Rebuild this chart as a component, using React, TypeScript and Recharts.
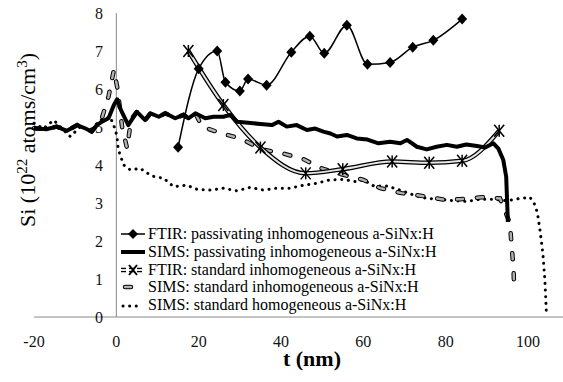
import { LineChart, Line, XAxis, YAxis, ReferenceLine, Legend } from 'recharts';

// FTIR: passivating inhomogeneous
const ftirPassT = [15, 20, 24.5, 26.5, 30, 32, 36.5, 42.5, 47, 50.5, 56, 61, 66.5, 72, 77, 84];
const ftirPassV = [4.47, 6.53, 7.0, 6.18, 5.95, 6.26, 6.1, 6.97, 7.39, 6.94, 7.68, 6.65, 6.7, 7.1, 7.28, 7.84];

// FTIR: standard inhomogeneous
const ftirStdT = [17.5, 26, 35, 46, 55, 67, 76, 84, 93];
const ftirStdV = [7.0, 5.58, 4.46, 3.78, 3.89, 4.09, 4.06, 4.11, 4.9];

// SIMS: passivating inhomogeneous
const simsPassT = [
  -20, -17, -14.5, -12, -9.5, -7.5, -6, -4.7, -3.5, -1.9, -0.6, 0.2, 1.1, 2.9, 5, 7, 8.3, 10.3, 11.9, 14.3, 16.3, 17.5, 19.2,
  21.6, 23.6, 26, 27.7, 29.3, 32, 35, 37.8, 39.4, 41.4, 43.8, 46.3, 48.3, 50.3, 52, 53.6, 56, 58.4, 61, 63.7, 66.5, 69,
  70.6, 73, 75.4, 77.8, 80.3, 82.7, 85, 87.6, 89.6, 91.6, 92.8, 94, 94.7, 95, 95.1,
];
const simsPassV = [
  4.97, 4.94, 5.01, 4.9, 5.05, 4.96, 4.88, 5.05, 5.14, 5.23, 5.58, 5.73, 5.45, 5.05, 5.4, 5.18, 5.36, 5.27, 5.36, 5.23, 5.32, 5.23, 5.36,
  5.23, 5.27, 5.27, 5.32, 5.14, 5.11, 5.08, 5.05, 5.14, 5.01, 5.05, 4.92, 4.96, 4.88, 4.83, 4.75, 4.79, 4.7, 4.67, 4.57, 4.61, 4.57,
  4.66, 4.48, 4.41, 4.48, 4.53, 4.48, 4.54, 4.5, 4.46, 4.57, 4.43, 4.13, 3.69, 2.82, 2.5,
];

// SIMS: standard inhomogeneous
const simsStdT = [
  -20, -17, -14.5, -12, -9.5, -7.5, -6, -4.7, -3.5, -1.9, -0.6, 0.3, 1.4, 2.6, 3.6, 5, 7, 8.3, 10.3, 11.9, 14.3, 16.3, 17.5,
  19.2, 20.8, 25.6, 30.1, 35.4, 40.6, 45.5, 49.9, 55.2, 60, 64.1, 69.3, 74.6, 79.9, 83.5, 88.8, 93.2, 95.6, 96, 96.5, 96.6,
];
const simsStdV = [
  4.97, 4.94, 5.01, 4.9, 5.05, 4.96, 4.88, 5.05, 5.24, 5.8, 6.5, 6.0, 5.0, 4.44, 5.2, 5.4, 5.18, 5.36, 5.27, 5.36, 5.23, 5.32, 5.23,
  5.36, 5.01, 4.83, 4.7, 4.41, 4.3, 4.15, 3.91, 3.74, 3.61, 3.39, 3.26, 3.18, 3.08, 3.1, 3.15, 3.12, 2.47, 1.9, 1.24, 0.85,
];

// SIMS: standard homogeneous
const simsHomT = [
  -20, -17.7, -15.2, -12.8, -11.2, -8.7, -6.3, -3.9, -1.5, -0.2, 0.2, 0.4, 0.8, 1.8, 3.4, 5.8, 8.6, 11.5, 13.9, 17.1, 19.6,
  22.8, 26, 29.3, 32.5, 35.7, 39, 42.2, 45.5, 48.7, 51.9, 55.2, 58.4, 60, 62.5, 65.7, 68.9, 72.2, 75.4, 78.6, 81.9, 85.1,
  88.3, 91.6, 94.8, 98.1, 100.5, 101.7, 102.3, 102.9, 103.6, 104.1, 104.5,
];
const simsHomV = [
  5.1, 4.96, 5.18, 4.92, 4.75, 5.01, 4.92, 5.18, 5.27, 4.92, 4.71, 4.48, 4.3, 4.0, 3.87, 3.91, 3.71, 3.65, 3.43, 3.47, 3.36,
  3.34, 3.39, 3.32, 3.41, 3.34, 3.39, 3.39, 3.47, 3.52, 3.61, 3.62, 3.56, 3.61, 3.45, 3.45, 3.34, 3.21, 3.12, 3.1, 3.06, 3.04,
  3.1, 3.1, 3.06, 3.12, 3.15, 2.95, 2.73, 2.29, 1.68, 0.97, 0.01,
];

const xTicks = [-20, 0, 20, 40, 60, 80, 100];
const yTicks = [0, 1, 2, 3, 4, 5, 6, 7, 8];
const legendLabels = [
  'FTIR: passivating inhomogeneous a-SiNx:H',
  'SIMS: passivating inhomogeneous a-SiNx:H',
  'FTIR: standard inhomogeneous a-SiNx:H',
  'SIMS: standard inhomogeneous a-SiNx:H',
  'SIMS: standard homogeneous a-SiNx:H',
];

const zip = (ts: number[], vs: number[]) => ts.map((t, i) => ({ t, v: vs[i] }));
const ftirPass = zip(ftirPassT, ftirPassV);
const ftirStd = zip(ftirStdT, ftirStdV);
const simsPass = zip(simsPassT, simsPassV);
const simsStd = zip(simsStdT, simsStdV);
const simsHom = zip(simsHomT, simsHomV);

const serif = 'Liberation Serif, DejaVu Serif, Tinos, serif';
const axisGray = '#888';
const textStyle = { fontFamily: serif };

const Diamond = (props: any) => {
  const { cx, cy, index } = props;
  if (cx == null || cy == null) return <g key={`d${index}`} />;
  return <path key={`d${index}`} d={`M${cx},${cy - 5.5}L${cx + 5},${cy}L${cx},${cy + 5.5}L${cx - 5},${cy}Z`} fill="#000" />;
};

const Star = (props: any) => {
  const { cx, cy, index } = props;
  if (cx == null || cy == null) return <g key={`s${index}`} />;
  return (
    <g key={`s${index}`} stroke="#000" strokeWidth={1.5}>
      <line x1={cx - 5} y1={cy - 6} x2={cx + 5} y2={cy + 6} />
      <line x1={cx + 5} y1={cy - 6} x2={cx - 5} y2={cy + 6} />
      <line x1={cx} y1={cy - 6} x2={cx} y2={cy + 6} />
    </g>
  );
};

const YTitle = () => (
  <text transform="translate(35,140) rotate(-90)" textAnchor="middle" style={textStyle} fontSize={22} fill="#000">
    Si (10<tspan dy={-8} fontSize={15}>22</tspan>
    <tspan dy={8}> atoms/cm</tspan>
    <tspan dy={-8} fontSize={15}>3</tspan>
    <tspan dy={8}>)</tspan>
  </text>
);

const XTitle = () => (
  <text x={312} y={366} textAnchor="middle" style={textStyle} fontSize={22} fontWeight="bold" fill="#000">
    t (nm)
  </text>
);

function LegendIcon({ i }: { i: number }) {
  return (
    <svg width={26} height={18} style={{ display: 'block' }}>
      {i === 0 && (
        <g>
          <line x1={1} y1={9} x2={25} y2={9} stroke="#000" strokeWidth={1.5} />
          <path d="M13,4L18,9L13,14L8,9Z" fill="#000" />
        </g>
      )}
      {i === 1 && <line x1={1} y1={9} x2={25} y2={9} stroke="#000" strokeWidth={4} />}
      {i === 2 && (
        <g>
          <line x1={1} y1={9} x2={25} y2={9} stroke="#000" strokeWidth={4.5} strokeDasharray="5 3" />
          <line x1={1} y1={9} x2={25} y2={9} stroke="#e6e6e6" strokeWidth={2} strokeDasharray="5 3" />
          <g stroke="#000" strokeWidth={2}>
            <line x1={9} y1={4} x2={17} y2={14} />
            <line x1={17} y1={4} x2={9} y2={14} />
          </g>
        </g>
      )}
      {i === 3 && (
        <g strokeLinecap="round">
          <line x1={5} y1={9} x2={11} y2={9} stroke="#000" strokeWidth={4.5} />
          <line x1={5} y1={9} x2={11} y2={9} stroke="#b0b0b0" strokeWidth={2.5} />
        </g>
      )}
      {i === 4 && (
        <line x1={3} y1={10} x2={20} y2={10} stroke="#000" strokeWidth={3} strokeLinecap="round" strokeDasharray="0.1 6.5" />
      )}
    </svg>
  );
}

function LegendBox() {
  return (
    <div style={{ fontFamily: serif, fontSize: 16, color: '#000' }}>
      {legendLabels.map((label, i) => (
        <div key={label} style={{ display: 'flex', alignItems: 'center', height: 17.8, whiteSpace: 'nowrap' }}>
          <LegendIcon i={i} />
          <span style={{ marginLeft: 2 }}>{label}</span>
        </div>
      ))}
    </div>
  );
}

export default function App() {
  return (
    <div style={{ position: 'absolute', left: 0, top: 0, width: 563, height: 382, background: '#fff', fontFamily: serif }}>
      <LineChart width={563} height={382} margin={{ top: 13, right: 0, bottom: 0, left: 0 }} style={textStyle}>
        <XAxis
          type="number"
          dataKey="t"
          domain={[-20, 108.5]}
          ticks={xTicks}
          height={65}
          tickLine={false}
          axisLine={{ stroke: axisGray }}
          tick={{ fontSize: 16, fill: '#111', style: textStyle }}
          tickMargin={13}
          label={<XTitle />}
        />
        <YAxis
          type="number"
          domain={[0, 8]}
          ticks={yTicks}
          width={34}
          axisLine={false}
          tickLine={false}
          tick={{ fontSize: 16, fill: '#111', style: textStyle }}
          tickMargin={-75}
          label={<YTitle />}
        />
        <ReferenceLine x={0} stroke={axisGray} />
        <Legend
          layout="vertical"
          align="center"
          verticalAlign="middle"
          content={<LegendBox />}
          wrapperStyle={{ left: 120, top: 225, width: 340 }}
        />
        <Line data={simsHom} dataKey="v" name="SIMS: standard homogeneous a-SiNx:H" type="linear" stroke="#000"
          strokeWidth={3} strokeLinecap="round" strokeDasharray="0.1 6.6" dot={false} activeDot={false} isAnimationActive={false} />
        <Line data={simsStd} dataKey="v" name="SIMS: standard inhomogeneous outline" type="linear" stroke="#000"
          strokeWidth={4.5} strokeLinecap="round" strokeDasharray="6 14" dot={false} activeDot={false} isAnimationActive={false} />
        <Line data={simsStd} dataKey="v" name="SIMS: standard inhomogeneous a-SiNx:H" type="linear" stroke="#b0b0b0"
          strokeWidth={2.5} strokeLinecap="round" strokeDasharray="6 14" dot={false} activeDot={false} isAnimationActive={false} />
        <Line data={ftirStd} dataKey="v" name="FTIR: standard outline" type="monotone" stroke="#000"
          strokeWidth={4.5} dot={false} activeDot={false} isAnimationActive={false} />
        <Line data={ftirStd} dataKey="v" name="FTIR: standard inhomogeneous a-SiNx:H" type="monotone" stroke="#e6e6e6"
          strokeWidth={2} dot={Star} activeDot={false} isAnimationActive={false} />
        <Line data={simsPass} dataKey="v" name="SIMS: passivating inhomogeneous a-SiNx:H" type="linear" stroke="#000"
          strokeWidth={4} strokeLinejoin="round" dot={false} activeDot={false} isAnimationActive={false} />
        <Line data={ftirPass} dataKey="v" name="FTIR: passivating inhomogeneous a-SiNx:H" type="monotone" stroke="#000"
          strokeWidth={1.5} dot={Diamond} activeDot={false} isAnimationActive={false} />
      </LineChart>
    </div>
  );
}
